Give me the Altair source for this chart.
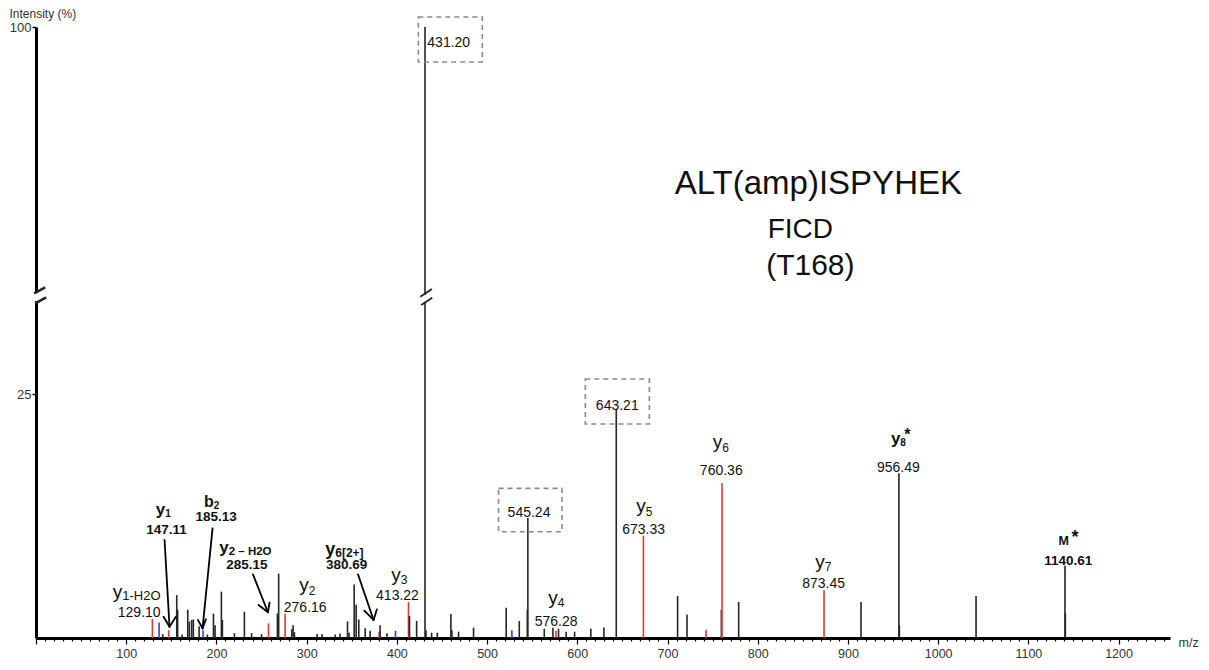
import altair as alt
import pandas as pd

FONT = "Liberation Sans"

# ---------------- peak list (m/z, relative intensity %, ion class) ----------------
peak_mz = [129.0, 136.4, 140.5, 147.1, 156.0, 157.0, 162.0, 168.2, 170.0, 172.6,
           174.4, 180.8, 185.2, 190.0, 196.7, 198.5, 205.5, 206.6, 220.0, 231.0,
           239.0, 250.0, 257.7, 267.6, 269.0, 276.1, 283.5, 285.0, 286.5, 311.6,
           317.0, 331.6, 337.0, 345.3, 347.0, 352.7, 354.9, 357.8, 364.9, 370.4,
           380.4, 381.4, 389.0, 398.5, 412.9, 414.0, 421.9, 431.2, 432.3, 438.5,
           444.8, 459.9, 461.0, 468.4, 485.0, 521.2, 527.5, 535.7, 544.6, 545.2,
           563.4, 573.0, 576.3, 579.2, 587.7, 597.0, 615.0, 629.5, 643.2, 673.3,
           711.2, 721.6, 742.7, 759.7, 760.4, 778.9, 873.5, 914.5, 956.5, 957.0,
           1042.0, 1140.6, 1141.0]
peak_int = [1.95, 1.6, 0.4, 0.8, 4.4, 2.9, 0.35, 2.9, 1.7, 1.85,
            1.9, 1.2, 0.8, 0.35, 2.5, 1.3, 4.75, 1.85, 0.5, 2.7,
            0.5, 0.4, 1.5, 2.5, 6.6, 2.5, 0.9, 1.3, 0.6, 0.4,
            0.4, 0.35, 0.45, 1.7, 0.55, 5.5, 3.4, 1.9, 1.0, 0.75,
            0.65, 1.3, 0.5, 0.75, 3.7, 2.25, 1.75, 100.0, 0.8, 0.55,
            0.55, 2.46, 0.8, 0.65, 1.06, 3.1, 0.8, 1.75, 2.9, 12.3,
            0.95, 1.05, 0.75, 0.95, 0.65, 0.65, 0.95, 1.07, 23.5, 10.5,
            4.3, 2.4, 0.85, 2.9, 15.9, 3.7, 4.9, 3.7, 16.9, 1.3,
            4.3, 7.4, 2.5]
peak_ion = ["y", "b", "o", "y", "o", "o", "o", "o", "o", "o",
            "o", "o", "b", "o", "o", "o", "o", "o", "o", "o",
            "o", "o", "y", "o", "o", "y", "o", "o", "o", "o",
            "o", "o", "o", "o", "o", "o", "o", "o", "o", "o",
            "y", "o", "o", "b", "y", "o", "o", "o", "o", "o",
            "o", "o", "o", "o", "o", "o", "b", "o", "o", "o",
            "o", "o", "y", "o", "o", "o", "o", "o", "o", "y",
            "o", "o", "y", "o", "y", "o", "y", "o", "o", "o",
            "o", "o", "o"]

# ---------------- annotation texts (positions in m/z and % units) ----------------
num_text = ["431.20", "643.21", "545.24", "673.33", "760.36", "873.45", "956.49",
            "576.28", "413.22", "276.16", "129.10",
            "ALT(amp)ISPYHEK", "FICD", "(T168)"]
num_mz = [457.5, 644.3, 546.5, 673.5, 759.6, 873.1, 955.9,
          576.5, 400.7, 298.4, 114.4,
          867.2, 847.2, 858.3]
num_int = [95.0, 23.38, 12.41, 10.67, 16.72, 5.13, 17.03,
           1.18, 3.85, 2.62, 2.15,
           57.9, 46.85, 37.5]
num_fs = [14, 14, 14, 14, 14, 14, 14, 14, 14, 14, 14, 33, 28, 30]

ion_text = ["y", "y", "y", "y", "y", "y", "y"]
ion_mz = [675.9, 760.8, 874.4, 578.4, 404.3, 302.3, 95.6]
ion_int = [12.92, 19.49, 7.23, 3.44, 5.85, 4.82, 4.15]

sub_text = ["5", "6", "7", "4", "3", "2", "1-H2O"]
sub_int = [12.51, 19.08, 6.90, 3.13, 5.49, 4.41, 3.90]
sub_fs = [12, 12, 12, 12, 12, 12, 13]

bnum_text = ["147.11", "185.13", "285.15", "380.69", "1140.61"]
bnum_mz = [144.7, 199.6, 233.8, 344.2, 1144.3]
bnum_int = [10.64, 12.0, 7.05, 7.05, 7.49]

bion_text = ["y", "b", "y", "y", "M", "y"]
bion_mz = [143.2, 197.0, 213.6, 331.7, 1144.9, 958.1]
bion_int = [12.57, 13.47, 8.72, 8.51, 9.54, 19.90]
bion_fs = [17, 16, 17, 18, 12.5, 17]

bsub_text = ["1", "2", "2 \u2013 H2O", "6[2+]", "*", "8", "*"]
bsub_mz = [143.2, 197.0, 213.6, 331.7, 1147.7, 958.1, 962.5]
bsub_int = [12.38, 13.23, 8.51, 8.34, 9.74, 19.69, 20.31]
bsub_fs = [10, 10, 11.5, 12, 18, 10, 16]

# arrows (shaft + two head strokes each)
arr_x = [142.5, 141.4, 155.1, 195.7, 179.5, 188.4, 240.5, 246.7, 258.9, 356.9, 363.9, 377.9]
arr_y = [10.05, 2.18, 2.18, 11.25, 1.85, 1.92, 6.53, 3.38, 3.62, 6.53, 2.80, 2.94]
arr_x2 = [148.0, 148.0, 148.0, 184.6, 184.6, 184.6, 257.1, 257.1, 257.1, 374.2, 374.2, 374.2]
arr_y2 = [1.16, 1.16, 1.16, 0.99, 0.99, 0.99, 2.64, 2.64, 2.64, 1.85, 1.85, 1.85]

# dashed boxes
box_x = [423.8, 608.9, 512.7]
box_x2 = [494.7, 679.9, 583.0]
box_y = [102.5, 26.56, 15.35]
box_y2 = [91.2, 21.95, 10.90]

# axis-break marks
gap_x = [0.0, 431.0]
gap_y = [35.38, 35.18]
gap_y2 = [34.56, 34.46]
sl_x = [-2.0, -0.9, 425.9, 427.0]
sl_y = [35.35, 34.33, 35.0, 34.15]
sl_x2 = [10.2, 11.3, 438.9, 439.2]
sl_y2 = [35.97, 34.94, 35.8, 34.90]
sl_w = [2.5, 2.5, 1.8, 1.8]

x_ticks = list(range(0, 1260, 10))

# ---------------- scales & axes ----------------
xs = alt.Scale(domain=[0, 1257], nice=False, zero=False)
ys = alt.Scale(domain=[0, 37, 100], range=[611, 250.25, 0], nice=False, zero=False)

x_axis = alt.Axis(values=x_ticks, format="d",
                  labelExpr="datum.value % 100 === 0 && datum.value > 0 ? datum.label : ''",
                  tickSize={"condition": {"test": "datum.value % 100 === 0", "value": 6}, "value": 3},
                  tickColor="black", tickWidth=1.2, domainColor="black", domainWidth=3,
                  labelFont=FONT, labelFontSize=12.5, labelColor="#333", labelPadding=3,
                  grid=False, zindex=0,
                  title="m/z", titleFont=FONT, titleFontSize=12.5, titleFontWeight="normal",
                  titleColor="#333", titleAngle=0, titleAlign="left", titleBaseline="middle",
                  titleX=1142, titleY=4)
y_axis = alt.Axis(values=[25, 100], tickSize=4, tickColor="black", tickWidth=1.5,
                  domainColor="black", domainWidth=3, labelFont=FONT, labelFontSize=13,
                  labelColor="#333", labelPadding=1, grid=False, zindex=0,
                  title="Intensity (%)", titleFont=FONT, titleFontSize=12,
                  titleFontWeight="normal", titleColor="#333", titleAngle=0,
                  titleAlign="left", titleBaseline="middle", titleX=-27, titleY=-14)


def X(field="mz"):
    return alt.X(f"{field}:Q", scale=xs, axis=x_axis)


def Y(field="inten"):
    return alt.Y(f"{field}:Q", scale=ys, axis=y_axis)


peaks = pd.DataFrame({"mz": peak_mz, "inten": peak_int, "ion": peak_ion})
peaks["base"] = 0.0

peak_layer = alt.Chart(peaks).mark_rule(strokeWidth=1.6).encode(
    x=X(), y=Y(), y2="base:Q",
    color=alt.Color("ion:N", scale=alt.Scale(domain=["o", "y", "b"],
                                             range=["#262626", "#dd3b3b", "#3b3bc9"]),
                    legend=None),
)


def text_layer(df, align, weight):
    return alt.Chart(df).mark_text(align=align, baseline="alphabetic", font=FONT,
                                   fontWeight=weight, color="#111").encode(
        x=X(), y=Y(),
        text="label:N",
        size=alt.Size("fs:Q", scale=None, legend=None),
    )


num_df = pd.DataFrame({"label": num_text, "mz": num_mz, "inten": num_int, "fs": num_fs})
ion_df = pd.DataFrame({"label": ion_text, "mz": ion_mz, "inten": ion_int, "fs": [19] * len(ion_text)})
sub_df = pd.DataFrame({"label": sub_text, "mz": ion_mz, "inten": sub_int, "fs": sub_fs})
bnum_df = pd.DataFrame({"label": bnum_text, "mz": bnum_mz, "inten": bnum_int, "fs": [13.5] * len(bnum_text)})
bion_df = pd.DataFrame({"label": bion_text, "mz": bion_mz, "inten": bion_int, "fs": bion_fs})
bsub_df = pd.DataFrame({"label": bsub_text, "mz": bsub_mz, "inten": bsub_int, "fs": bsub_fs})

arrows = pd.DataFrame({"mz": arr_x, "inten": arr_y, "mz2": arr_x2, "inten2": arr_y2})
arrow_layer = alt.Chart(arrows).mark_rule(color="black", strokeWidth=1.8, strokeCap="round").encode(
    x=X(), x2="mz2:Q", y=Y(), y2="inten2:Q",
)

boxes = pd.DataFrame({"mz": box_x, "mz2": box_x2, "inten": box_y, "inten2": box_y2})
box_layer = alt.Chart(boxes).mark_rect(filled=False, stroke="#8a8a8a", strokeWidth=1.6,
                                       strokeDash=[5, 4]).encode(
    x=X(), x2="mz2:Q", y=Y(), y2="inten2:Q",
)

gaps = pd.DataFrame({"mz": gap_x, "inten": gap_y, "inten2": gap_y2})
gap_layer = alt.Chart(gaps).mark_rule(color="white", strokeWidth=5).encode(
    x=X(), y=Y(), y2="inten2:Q",
)

slashes = pd.DataFrame({"mz": sl_x, "inten": sl_y, "mz2": sl_x2, "inten2": sl_y2, "w": sl_w})
slash_layer = alt.Chart(slashes).mark_rule(color="#222").encode(
    x=X(), x2="mz2:Q", y=Y(), y2="inten2:Q",
    strokeWidth=alt.StrokeWidth("w:Q", scale=None, legend=None),
)

chart = alt.layer(
    peak_layer, box_layer, gap_layer, slash_layer, arrow_layer,
    text_layer(num_df, "center", "normal"),
    text_layer(ion_df, "right", "normal"),
    text_layer(sub_df, "left", "normal"),
    text_layer(bnum_df, "center", "bold"),
    text_layer(bion_df, "right", "bold"),
    text_layer(bsub_df, "left", "bold"),
).properties(
    width=1134, height=611,
    autosize=alt.AutoSizeParams(type="none"),
    padding={"left": 28, "top": 19, "right": 31, "bottom": 24},
    background="white",
).configure_view(strokeOpacity=0, stroke="transparent")

chart.save("out.html", embed_options={"renderer": "svg", "actions": False})
